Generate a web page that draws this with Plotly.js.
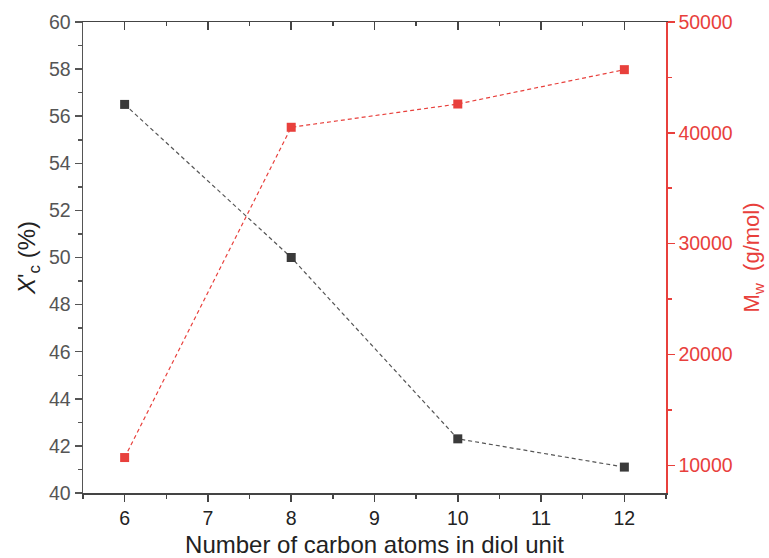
<!DOCTYPE html>
<html><head><meta charset="utf-8">
<script src="https://cdn.plot.ly/plotly-3.0.1.min.js"></script>
<style>body{margin:0;background:#fff}#c{width:769px;height:558px}</style>
</head><body><div id="c"></div>
<script>
const carbonAtoms = [6, 8, 10, 12];
const crystallinity = [56.5, 50.0, 42.3, 41.1];
const mw = [10700, 40500, 42600, 45700];
const xTicks = [6, 7, 8, 9, 10, 11, 12];
const yTicks = [40, 42, 44, 46, 48, 50, 52, 54, 56, 58, 60];
const y2Ticks = [10000, 20000, 30000, 40000, 50000];

const red = '#e8403c';
const dark = '#3a3a3a';
const fam = 'Liberation Sans, Arial, sans-serif';
const traces = [
  {x: carbonAtoms, y: crystallinity, type: 'scatter', mode: 'lines+markers',
   line: {color: '#555', width: 1.2, dash: '4px,3px'},
   marker: {symbol: 'square', size: 9, color: dark}, yaxis: 'y'},
  {x: carbonAtoms, y: mw, type: 'scatter', mode: 'lines+markers',
   line: {color: red, width: 1.2, dash: '4px,3px'},
   marker: {symbol: 'square', size: 9, color: red}, yaxis: 'y2'},
  // invisible trace to host the top (mirror) axis with inward ticks
  {x: carbonAtoms, y: crystallinity, type: 'scatter', mode: 'markers',
   marker: {opacity: 0}, xaxis: 'x2', yaxis: 'y', hoverinfo: 'skip'}
];
const layout = {
  width: 769, height: 558, showlegend: false,
  paper_bgcolor: '#fff', plot_bgcolor: '#fff',
  margin: {l: 83, r: 103, t: 22, b: 65},
  font: {family: fam},
  xaxis: {range: [5.5, 12.5], tickvals: xTicks, ticktext: xTicks.map(String),
    ticks: 'outside', ticklen: 7, tickwidth: 1.5, tickcolor: '#444',
    minor: {dtick: 0.5, tick0: 6, ticks: 'outside', ticklen: 4, tickcolor: '#444'},
    showline: true, linecolor: '#444', linewidth: 1.5,
    showgrid: false, zeroline: false,
    tickfont: {size: 19.5, color: '#222', family: fam},
    title: {text: 'Number of carbon atoms in diol unit', font: {size: 24, color: '#222', family: fam}, standoff: 8}},
  xaxis2: {range: [5.5, 12.5], overlaying: 'x', side: 'top', anchor: 'y', tickvals: xTicks,
    showticklabels: false,
    ticks: 'inside', ticklen: 8, tickwidth: 1.5, tickcolor: '#444',
    minor: {dtick: 0.5, tick0: 6, ticks: 'inside', ticklen: 4, tickcolor: '#444'},
    showline: true, linecolor: '#444', linewidth: 1.5,
    showgrid: false, zeroline: false},
  yaxis: {range: [40, 60], tickvals: yTicks, ticktext: yTicks.map(String),
    ticks: 'outside', ticklen: 7, tickwidth: 1.5, tickcolor: '#555',
    minor: {dtick: 1, tick0: 40, ticks: 'outside', ticklen: 4, tickcolor: '#555'},
    showline: true, linecolor: '#555', linewidth: 1.5,
    showgrid: false, zeroline: false,
    tickfont: {size: 19.5, color: '#555', family: fam},
    title: {text: '<i>X</i>\'<sub>c</sub> (%)', font: {size: 24, color: '#222', family: fam}, standoff: 6}},
  yaxis2: {range: [7500, 50000], overlaying: 'y', side: 'right', tickvals: y2Ticks, ticktext: y2Ticks.map(String),
    ticks: 'outside', ticklen: 7, tickwidth: 1.5, tickcolor: red,
    minor: {dtick: 5000, tick0: 10000, ticks: 'outside', ticklen: 4, tickcolor: red},
    showline: true, linecolor: red, linewidth: 1.5,
    showgrid: false, zeroline: false,
    tickfont: {size: 19.5, color: red, family: fam},
    title: {text: 'M<sub>w</sub>  (g/mol)', font: {size: 22, color: red, family: fam}, standoff: 12}}
};
Plotly.newPlot('c', traces, layout, {displayModeBar: false, staticPlot: true});
</script></body></html>
